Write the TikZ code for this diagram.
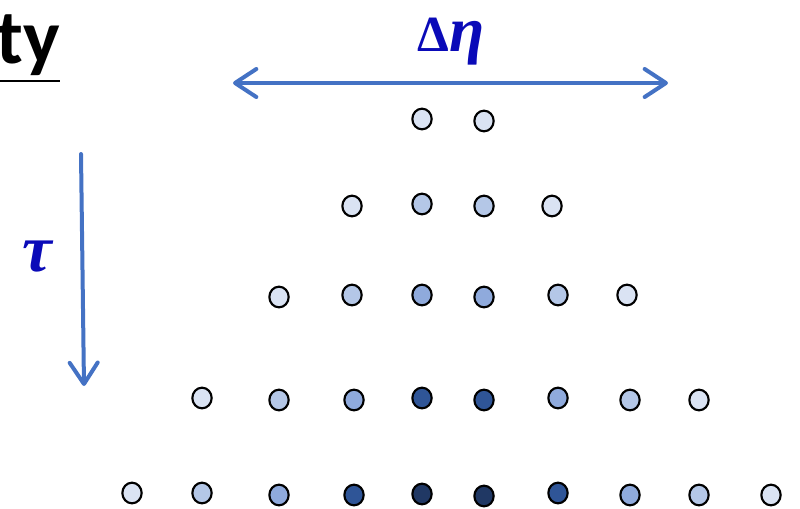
\documentclass[tikz,border=0pt]{standalone}
\usepackage{fontspec}
\usetikzlibrary{arrows.meta,shapes.geometric}
\newfontfamily\headfont{Carlito}
\newfontfamily\grkfont{Liberation Serif}
\definecolor{cA}{HTML}{DAE3F3}
\definecolor{cB}{HTML}{B4C7E7}
\definecolor{cC}{HTML}{8FAADC}
\definecolor{cD}{HTML}{2F5597}
\definecolor{cE}{HTML}{203864}
\definecolor{arrowblue}{HTML}{4472C4}
\definecolor{labelblue}{HTML}{0A0AB8}
\tikzset{
  dot/.style={ellipse, draw=black, line width=1.6pt, minimum width=14.5pt, minimum height=15.5pt, inner sep=0pt},
  axis/.style={draw=arrowblue, line width=3pt, line cap=round},
  barbtip/.tip={Straight Barb[length=16pt, width=21pt, line cap=round, line join=round]},
  lbl/.style={text=labelblue, inner sep=0pt}
}
\begin{document}
\begin{tikzpicture}[x=0.75pt,y=-0.75pt]
\useasboundingbox (0,0) rectangle (800,508);
\clip (0,0) rectangle (800,508);
% heading fragment
\node[anchor=base east, inner sep=0pt, font=\headfont\bfseries\fontsize{58}{60}\selectfont] (head) at (60,63) {ty};
\coordinate (ulL) at (-5,81);
\coordinate (ulR) at (60,81);
\draw[line width=2.2pt] (ulL) -- (ulR);
% eta axis
\coordinate (etaL) at (233,83);
\coordinate (etaR) at (668,83);
\draw[axis, barbtip-barbtip] (etaL) -- (etaR);
\node[lbl, anchor=base] (deta) at (451,51) {{\grkfont\bfseries\fontsize{38}{40}\selectfont Δ}{\grkfont\bfseries\itshape\fontsize{48}{50}\selectfont η}};
% tau axis
\coordinate (tauT) at (81,154);
\coordinate (tauB) at (84,386);
\draw[axis, -barbtip] (tauT) -- (tauB);
\node[lbl] (tau) at (37,257) {\grkfont\bfseries\itshape\fontsize{50}{52}\selectfont τ};
% row 1
\node[dot, fill=cA] (r1a) at (422,119) {};
\node[dot, fill=cA] (r1b) at (484,121) {};
% row 2
\node[dot, fill=cA] (r2a) at (352,206) {};
\node[dot, fill=cB] (r2b) at (422,204) {};
\node[dot, fill=cB] (r2c) at (484,206) {};
\node[dot, fill=cA] (r2d) at (552,206) {};
% row 3
\node[dot, fill=cA] (r3a) at (279,297) {};
\node[dot, fill=cB] (r3b) at (352,295) {};
\node[dot, fill=cC] (r3c) at (422,295) {};
\node[dot, fill=cC] (r3d) at (484,297) {};
\node[dot, fill=cB] (r3e) at (558,295) {};
\node[dot, fill=cA] (r3f) at (627,295) {};
% row 4
\node[dot, fill=cA] (r4a) at (202,398) {};
\node[dot, fill=cB] (r4b) at (279,400) {};
\node[dot, fill=cC] (r4c) at (354,400) {};
\node[dot, fill=cD] (r4d) at (422,398) {};
\node[dot, fill=cD] (r4e) at (484,400) {};
\node[dot, fill=cC] (r4f) at (558,398) {};
\node[dot, fill=cB] (r4g) at (630,400) {};
\node[dot, fill=cA] (r4h) at (699,400) {};
% row 5
\node[dot, fill=cA] (r5a) at (132,493) {};
\node[dot, fill=cB] (r5b) at (202,493) {};
\node[dot, fill=cC] (r5c) at (279,495) {};
\node[dot, fill=cD] (r5d) at (354,495) {};
\node[dot, fill=cE] (r5e) at (422,494) {};
\node[dot, fill=cE] (r5f) at (484,496) {};
\node[dot, fill=cD] (r5g) at (558,493) {};
\node[dot, fill=cC] (r5h) at (630,495) {};
\node[dot, fill=cB] (r5i) at (699,495) {};
\node[dot, fill=cA] (r5j) at (771,495) {};
\end{tikzpicture}
\end{document}
